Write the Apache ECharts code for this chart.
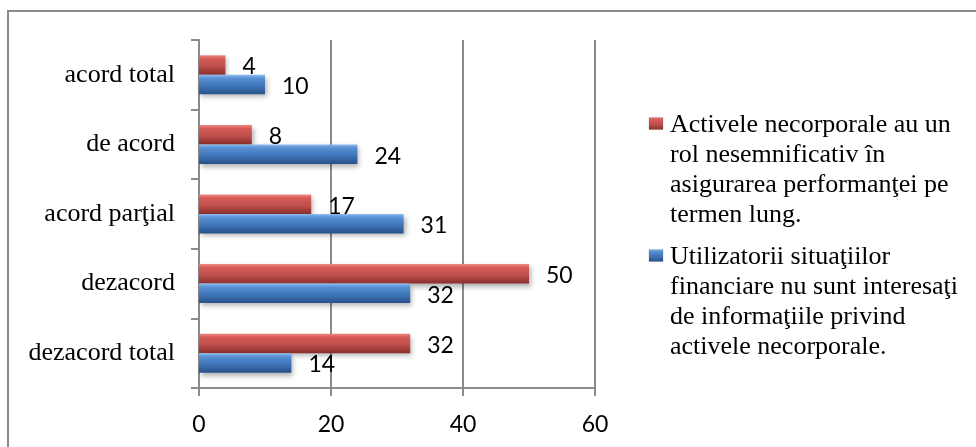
<!DOCTYPE html>
<html>
<head>
<meta charset="utf-8">
<script src="https://cdn.jsdelivr.net/npm/echarts@6/dist/echarts.min.js"></script>
<style>
  html, body { margin: 0; padding: 0; background: #fff; }
  #chart { width: 976px; height: 447px; }
</style>
</head>
<body>
<div id="chart"></div>
<script>
// Response categories, bottom to top on the vertical axis
const categories = ['dezacord total', 'dezacord', 'acord parţial', 'de acord', 'acord total'];

// Statement texts (series names, wrapped for the key on the right)
const seriesNames = [
  'Activele necorporale au un\nrol nesemnificativ în\nasigurarea performanţei pe\ntermen lung.',
  'Utilizatorii situaţiilor\nfinanciare nu sunt interesaţi\nde informaţiile privind\nactivele necorporale.'
];

// Number of respondents per category
const rolNesemnificativ = [32, 50, 17, 8, 4];
const utilizatoriInteresati = [14, 32, 31, 24, 10];

// Value axis ticks
const xTicks = [0, 20, 40, 60];

const GRAY = '#8a8a8a';

function bevel(light, top, mid, dark) {
  return {
    type: 'linear', x: 0, y: 0, x2: 0, y2: 1,
    colorStops: [
      { offset: 0, color: light },
      { offset: 0.18, color: top },
      { offset: 0.55, color: mid },
      { offset: 1, color: dark }
    ]
  };
}

const redFill = bevel('#ee8784', '#d65a56', '#c0504d', '#8a2e2b');
const blueFill = bevel('#8cbcf0', '#5990d3', '#4077ba', '#285089');
const fills = [redFill, blueFill];

const valueLabel = {
  show: true,
  position: 'right',
  distance: 17,
  offset: [0, 2],
  color: '#000',
  fontFamily: 'Lato',
  fontSize: 23
};

const barShadow = {
  shadowBlur: 5,
  shadowColor: 'rgba(0,0,0,0.3)',
  shadowOffsetX: 2,
  shadowOffsetY: 3
};

// Key on the right: a bevelled square beside the first line of each wrapped name
const keyLeft = 649;
const keyTops = [110, 242];
const keyLine = 30;
const keyElements = [];
seriesNames.forEach(function (name, i) {
  keyElements.push({
    type: 'rect',
    shape: { x: keyLeft, y: keyTops[i] + keyLine / 2 - 7.5, width: 14, height: 12 },
    style: { fill: fills[i], stroke: 'rgba(0,0,0,0.25)', lineWidth: 0.5 },
    silent: true
  });
  keyElements.push({
    type: 'text',
    x: keyLeft + 21,
    y: keyTops[i],
    style: {
      text: name,
      fontFamily: 'Liberation Serif',
      fontSize: 26,
      lineHeight: keyLine,
      fill: '#000',
      verticalAlign: 'top'
    },
    silent: true
  });
});

const chart = echarts.init(document.getElementById('chart'), null, { renderer: 'canvas' });

chart.setOption({
  animation: false,
  backgroundColor: '#fff',
  graphic: [{
    type: 'rect',
    shape: { x: 8, y: 11, width: 1000, height: 500 },
    style: { fill: 'none', stroke: GRAY, lineWidth: 2 },
    silent: true
  }].concat(keyElements),
  grid: { left: 199, top: 40, right: 381, bottom: 59, containLabel: false },
  xAxis: {
    type: 'value',
    min: xTicks[0],
    max: xTicks[xTicks.length - 1],
    interval: xTicks[1] - xTicks[0],
    axisLine: { show: true, lineStyle: { color: GRAY, width: 2 } },
    axisTick: { show: true, length: 8, lineStyle: { color: GRAY, width: 2 } },
    splitLine: { show: true, lineStyle: { color: GRAY, width: 2 } },
    axisLabel: { margin: 25, color: '#000', fontFamily: 'Lato', fontSize: 23 }
  },
  yAxis: {
    type: 'category',
    data: categories,
    axisLine: { show: true, lineStyle: { color: GRAY, width: 2 } },
    axisTick: { show: true, length: 8, lineStyle: { color: GRAY, width: 2 } },
    axisLabel: { margin: 24, color: '#000', fontFamily: 'Liberation Serif', fontSize: 26 }
  },
  series: [
    {
      name: seriesNames[0],
      type: 'bar',
      data: rolNesemnificativ,
      barGap: '0%',
      barCategoryGap: '44%',
      itemStyle: Object.assign({ color: redFill }, barShadow),
      label: valueLabel
    },
    {
      name: seriesNames[1],
      type: 'bar',
      data: utilizatoriInteresati,
      barGap: '0%',
      barCategoryGap: '44%',
      itemStyle: Object.assign({ color: blueFill }, barShadow),
      label: valueLabel
    }
  ]
});
</script>
</body>
</html>
